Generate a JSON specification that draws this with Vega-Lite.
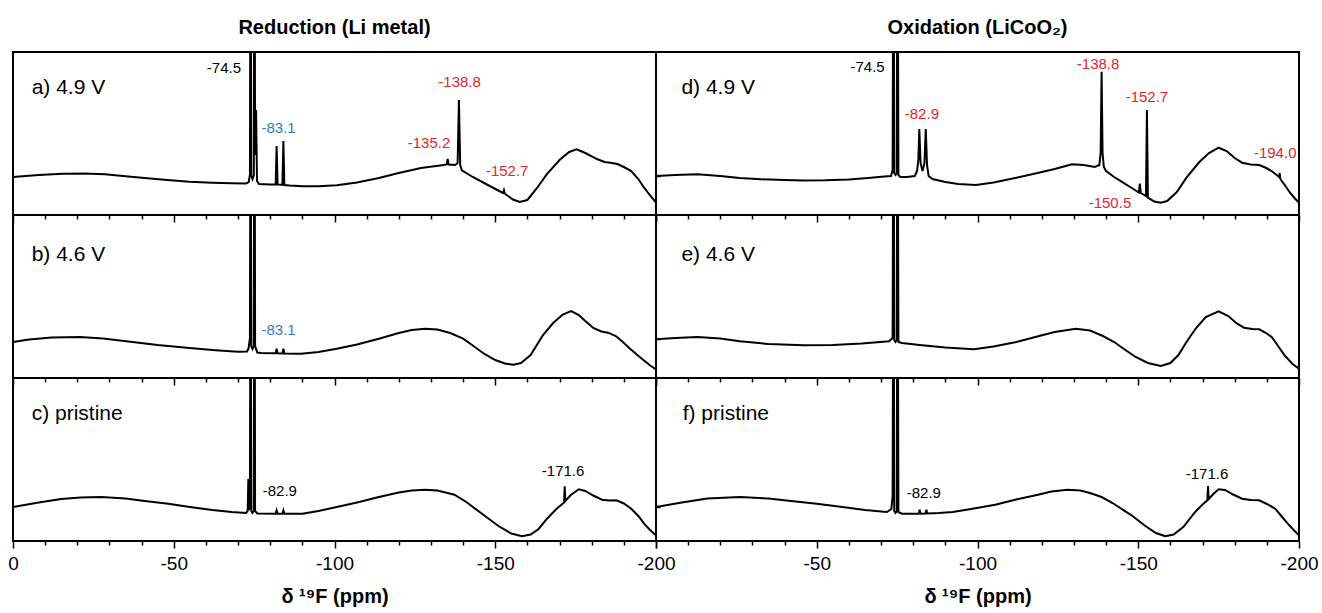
{
  "$schema": "https://vega.github.io/schema/vega-lite/v6.json",
  "padding": {"left": 6, "top": 17, "right": 5, "bottom": 5},
  "background": "white",
  "config": {
    "view": {"stroke": "black", "strokeWidth": 2},
    "axis": {"grid": false, "domain": false, "tickColor": "black", "tickWidth": 1.5, "labelColor": "black", "labelFont": "Liberation Sans", "titleColor": "black", "titleFont": "Liberation Sans", "labelOverlap": false},
    "title": {"font": "Liberation Sans", "fontSize": 20, "fontWeight": "bold", "color": "black", "anchor": "middle", "offset": 14},
    "text": {"font": "Liberation Sans"}
  },
  "datasets": {
    "spectra": [
      {"panel":"a","ppm":0,"h":38},{"panel":"a","ppm":-8,"h":40},{"panel":"a","ppm":-15.6,"h":41.3},{"panel":"a","ppm":-22,"h":41.5},{"panel":"a","ppm":-28.6,"h":40.7},{"panel":"a","ppm":-35,"h":38.8},{"panel":"a","ppm":-41.8,"h":36.7},{"panel":"a","ppm":-48,"h":35},{"panel":"a","ppm":-54.9,"h":33.3},{"panel":"a","ppm":-62,"h":32.3},{"panel":"a","ppm":-68,"h":31.8},{"panel":"a","ppm":-72.5,"h":31.5},{"panel":"a","ppm":-73.3,"h":33},{"panel":"a","ppm":-73.7,"h":40},{"panel":"a","ppm":-73.9,"h":400},{"panel":"a","ppm":-74.1,"h":40},{"panel":"a","ppm":-74.5,"h":36},{"panel":"a","ppm":-74.9,"h":40},{"panel":"a","ppm":-75.1,"h":400},{"panel":"a","ppm":-75.3,"h":60},{"panel":"a","ppm":-75.6,"h":105},{"panel":"a","ppm":-75.9,"h":34},{"panel":"a","ppm":-76.5,"h":31},{"panel":"a","ppm":-80,"h":30.5},{"panel":"a","ppm":-81.7,"h":30.5},{"panel":"a","ppm":-82.0,"h":69},{"panel":"a","ppm":-82.3,"h":30.5},{"panel":"a","ppm":-83.8,"h":30.3},{"panel":"a","ppm":-84.1,"h":74},{"panel":"a","ppm":-84.4,"h":30},{"panel":"a","ppm":-86,"h":29.5},{"panel":"a","ppm":-90.2,"h":28.7},{"panel":"a","ppm":-95,"h":28.8},{"panel":"a","ppm":-100.7,"h":29.7},{"panel":"a","ppm":-107,"h":32.5},{"panel":"a","ppm":-113.8,"h":37},{"panel":"a","ppm":-120,"h":42},{"panel":"a","ppm":-126.9,"h":47},{"panel":"a","ppm":-133.4,"h":49.7},{"panel":"a","ppm":-134.9,"h":50.5},{"panel":"a","ppm":-135.2,"h":56},{"panel":"a","ppm":-135.5,"h":50.5},{"panel":"a","ppm":-137.5,"h":50},{"panel":"a","ppm":-138.3,"h":52},{"panel":"a","ppm":-138.7,"h":115},{"panel":"a","ppm":-139.1,"h":50},{"panel":"a","ppm":-139.6,"h":44.7},{"panel":"a","ppm":-143,"h":38},{"panel":"a","ppm":-148,"h":29.5},{"panel":"a","ppm":-152.4,"h":22},{"panel":"a","ppm":-152.7,"h":25},{"panel":"a","ppm":-153,"h":21.3},{"panel":"a","ppm":-155.5,"h":15.5},{"panel":"a","ppm":-157.6,"h":13},{"panel":"a","ppm":-160,"h":15},{"panel":"a","ppm":-163,"h":27},{"panel":"a","ppm":-166,"h":40.7},{"panel":"a","ppm":-170,"h":55},{"panel":"a","ppm":-173,"h":63},{"panel":"a","ppm":-175.3,"h":65.7},{"panel":"a","ppm":-178,"h":62},{"panel":"a","ppm":-181.8,"h":55.7},{"panel":"a","ppm":-184,"h":53},{"panel":"a","ppm":-185.8,"h":52.3},{"panel":"a","ppm":-188,"h":51},{"panel":"a","ppm":-190,"h":48},{"panel":"a","ppm":-192.3,"h":44},{"panel":"a","ppm":-194.5,"h":36},{"panel":"a","ppm":-196.3,"h":27.3},{"panel":"a","ppm":-198.3,"h":19},{"panel":"a","ppm":-200,"h":12.3},

      {"panel":"b","ppm":0,"h":36},{"panel":"b","ppm":-5,"h":38.5},{"panel":"b","ppm":-12,"h":40.5},{"panel":"b","ppm":-20.8,"h":41},{"panel":"b","ppm":-28,"h":39.5},{"panel":"b","ppm":-35.2,"h":36.7},{"panel":"b","ppm":-45,"h":33},{"panel":"b","ppm":-54.9,"h":30},{"panel":"b","ppm":-63,"h":27.8},{"panel":"b","ppm":-70,"h":26.3},{"panel":"b","ppm":-72.8,"h":26.5},{"panel":"b","ppm":-73.3,"h":30},{"panel":"b","ppm":-73.7,"h":40},{"panel":"b","ppm":-73.9,"h":400},{"panel":"b","ppm":-74.1,"h":32},{"panel":"b","ppm":-74.5,"h":29},{"panel":"b","ppm":-74.9,"h":32},{"panel":"b","ppm":-75.1,"h":400},{"panel":"b","ppm":-75.3,"h":32},{"panel":"b","ppm":-76,"h":25.5},{"panel":"b","ppm":-77.1,"h":25},{"panel":"b","ppm":-81.7,"h":24.8},{"panel":"b","ppm":-82,"h":29.3},{"panel":"b","ppm":-82.3,"h":24.7},{"panel":"b","ppm":-83.8,"h":24.6},{"panel":"b","ppm":-84.1,"h":29.3},{"panel":"b","ppm":-84.4,"h":24.5},{"panel":"b","ppm":-89.6,"h":24.3},{"panel":"b","ppm":-95,"h":26},{"panel":"b","ppm":-100.7,"h":29.3},{"panel":"b","ppm":-107,"h":33.5},{"panel":"b","ppm":-113.8,"h":39.3},{"panel":"b","ppm":-120,"h":45},{"panel":"b","ppm":-124,"h":48},{"panel":"b","ppm":-128.2,"h":49.3},{"panel":"b","ppm":-132,"h":48.5},{"panel":"b","ppm":-136,"h":45},{"panel":"b","ppm":-140,"h":39.3},{"panel":"b","ppm":-143,"h":32.5},{"panel":"b","ppm":-146.5,"h":24.3},{"panel":"b","ppm":-150,"h":18},{"panel":"b","ppm":-153,"h":14.5},{"panel":"b","ppm":-155.7,"h":13.3},{"panel":"b","ppm":-158,"h":15},{"panel":"b","ppm":-161,"h":23},{"panel":"b","ppm":-164.8,"h":42.7},{"panel":"b","ppm":-168,"h":55},{"panel":"b","ppm":-171,"h":63.5},{"panel":"b","ppm":-173.6,"h":67},{"panel":"b","ppm":-176,"h":63},{"panel":"b","ppm":-178,"h":57},{"panel":"b","ppm":-180.5,"h":50},{"panel":"b","ppm":-183,"h":46.5},{"panel":"b","ppm":-185.1,"h":45.3},{"panel":"b","ppm":-187.5,"h":42},{"panel":"b","ppm":-189.7,"h":36},{"panel":"b","ppm":-192,"h":29},{"panel":"b","ppm":-195.6,"h":19.3},{"panel":"b","ppm":-198,"h":13},{"panel":"b","ppm":-200,"h":8.5},

      {"panel":"c","ppm":0,"h":34},{"panel":"c","ppm":-8,"h":38.5},{"panel":"c","ppm":-15,"h":42},{"panel":"c","ppm":-21,"h":43.5},{"panel":"c","ppm":-27.4,"h":44},{"panel":"c","ppm":-35,"h":42.5},{"panel":"c","ppm":-41,"h":40},{"panel":"c","ppm":-48.3,"h":37.3},{"panel":"c","ppm":-55,"h":34},{"panel":"c","ppm":-62,"h":31},{"panel":"c","ppm":-68,"h":29},{"panel":"c","ppm":-72.5,"h":28},{"panel":"c","ppm":-73.0,"h":30},{"panel":"c","ppm":-73.2,"h":62},{"panel":"c","ppm":-73.4,"h":31},{"panel":"c","ppm":-73.7,"h":38},{"panel":"c","ppm":-73.9,"h":400},{"panel":"c","ppm":-74.1,"h":30},{"panel":"c","ppm":-74.5,"h":28},{"panel":"c","ppm":-74.9,"h":30},{"panel":"c","ppm":-75.1,"h":400},{"panel":"c","ppm":-75.3,"h":30},{"panel":"c","ppm":-76,"h":27.5},{"panel":"c","ppm":-81.7,"h":27.3},{"panel":"c","ppm":-82,"h":30.7},{"panel":"c","ppm":-82.3,"h":27.3},{"panel":"c","ppm":-83.8,"h":27.3},{"panel":"c","ppm":-84.1,"h":30.7},{"panel":"c","ppm":-84.4,"h":27.3},{"panel":"c","ppm":-90,"h":27.3},{"panel":"c","ppm":-95,"h":30},{"panel":"c","ppm":-100.7,"h":34},{"panel":"c","ppm":-107,"h":38.5},{"panel":"c","ppm":-113.8,"h":44},{"panel":"c","ppm":-120,"h":48.5},{"panel":"c","ppm":-124,"h":50.5},{"panel":"c","ppm":-128.2,"h":51.3},{"panel":"c","ppm":-132,"h":50.5},{"panel":"c","ppm":-137.3,"h":46.3},{"panel":"c","ppm":-141,"h":39},{"panel":"c","ppm":-146.5,"h":25.7},{"panel":"c","ppm":-151,"h":15},{"panel":"c","ppm":-155,"h":7.5},{"panel":"c","ppm":-158.3,"h":4.7},{"panel":"c","ppm":-161,"h":6.5},{"panel":"c","ppm":-163.5,"h":12},{"panel":"c","ppm":-166.1,"h":22.3},{"panel":"c","ppm":-169,"h":32},{"panel":"c","ppm":-171.4,"h":38.5},{"panel":"c","ppm":-171.6,"h":54.7},{"panel":"c","ppm":-171.8,"h":40},{"panel":"c","ppm":-173.5,"h":46},{"panel":"c","ppm":-176,"h":51.7},{"panel":"c","ppm":-178,"h":50},{"panel":"c","ppm":-180.5,"h":45.5},{"panel":"c","ppm":-183.2,"h":41.3},{"panel":"c","ppm":-185.5,"h":40.5},{"panel":"c","ppm":-187.7,"h":40.7},{"panel":"c","ppm":-190,"h":37.5},{"panel":"c","ppm":-192.3,"h":32.3},{"panel":"c","ppm":-194.5,"h":25},{"panel":"c","ppm":-196.3,"h":17.3},{"panel":"c","ppm":-198.3,"h":10.5},{"panel":"c","ppm":-200,"h":5.7},

      {"panel":"d","ppm":0,"h":39},{"panel":"d","ppm":-6,"h":40},{"panel":"d","ppm":-12.9,"h":40.7},{"panel":"d","ppm":-20,"h":39},{"panel":"d","ppm":-26,"h":37},{"panel":"d","ppm":-32.7,"h":35.7},{"panel":"d","ppm":-40,"h":35},{"panel":"d","ppm":-46,"h":34.6},{"panel":"d","ppm":-52.6,"h":34.7},{"panel":"d","ppm":-60,"h":35.5},{"panel":"d","ppm":-66,"h":37},{"panel":"d","ppm":-71,"h":38.5},{"panel":"d","ppm":-73.1,"h":39},{"panel":"d","ppm":-73.6,"h":45},{"panel":"d","ppm":-73.9,"h":400},{"panel":"d","ppm":-74.1,"h":42},{"panel":"d","ppm":-74.5,"h":40},{"panel":"d","ppm":-74.9,"h":42},{"panel":"d","ppm":-75.1,"h":400},{"panel":"d","ppm":-75.4,"h":40},{"panel":"d","ppm":-76,"h":38},{"panel":"d","ppm":-78,"h":38},{"panel":"d","ppm":-80.5,"h":39},{"panel":"d","ppm":-81.2,"h":44},{"panel":"d","ppm":-81.6,"h":55},{"panel":"d","ppm":-81.9,"h":86},{"panel":"d","ppm":-82.3,"h":52},{"panel":"d","ppm":-82.9,"h":44},{"panel":"d","ppm":-83.5,"h":52},{"panel":"d","ppm":-83.9,"h":86},{"panel":"d","ppm":-84.3,"h":50},{"panel":"d","ppm":-84.8,"h":39},{"panel":"d","ppm":-86,"h":36},{"panel":"d","ppm":-90,"h":33},{"panel":"d","ppm":-94,"h":31},{"panel":"d","ppm":-99.5,"h":30},{"panel":"d","ppm":-105,"h":32.5},{"panel":"d","ppm":-112.1,"h":37.3},{"panel":"d","ppm":-118,"h":41.5},{"panel":"d","ppm":-124,"h":46},{"panel":"d","ppm":-129.4,"h":50.7},{"panel":"d","ppm":-133,"h":50},{"panel":"d","ppm":-136.5,"h":48},{"panel":"d","ppm":-137.9,"h":50},{"panel":"d","ppm":-138.3,"h":62},{"panel":"d","ppm":-138.6,"h":143.3},{"panel":"d","ppm":-138.9,"h":62},{"panel":"d","ppm":-139.3,"h":48},{"panel":"d","ppm":-140,"h":44},{"panel":"d","ppm":-142.5,"h":38},{"panel":"d","ppm":-145.3,"h":32.3},{"panel":"d","ppm":-148,"h":27},{"panel":"d","ppm":-150.2,"h":22.5},{"panel":"d","ppm":-150.5,"h":31.3},{"panel":"d","ppm":-150.8,"h":22},{"panel":"d","ppm":-152.4,"h":19},{"panel":"d","ppm":-152.7,"h":105},{"panel":"d","ppm":-153,"h":17.3},{"panel":"d","ppm":-155,"h":13.5},{"panel":"d","ppm":-157,"h":12.3},{"panel":"d","ppm":-159,"h":14},{"panel":"d","ppm":-162,"h":23},{"panel":"d","ppm":-165,"h":37.3},{"panel":"d","ppm":-169,"h":53},{"panel":"d","ppm":-172,"h":62},{"panel":"d","ppm":-175,"h":67.3},{"panel":"d","ppm":-177.5,"h":64},{"panel":"d","ppm":-180,"h":57},{"panel":"d","ppm":-182.3,"h":52.3},{"panel":"d","ppm":-185,"h":50.5},{"panel":"d","ppm":-187.6,"h":50},{"panel":"d","ppm":-189.5,"h":47.5},{"panel":"d","ppm":-191.5,"h":44},{"panel":"d","ppm":-193.8,"h":38},{"panel":"d","ppm":-194.0,"h":42},{"panel":"d","ppm":-194.2,"h":36},{"panel":"d","ppm":-196,"h":28},{"panel":"d","ppm":-197.2,"h":22.3},{"panel":"d","ppm":-198.6,"h":17},{"panel":"d","ppm":-200,"h":12.3},

      {"panel":"e","ppm":0,"h":38.7},{"panel":"e","ppm":-6,"h":40},{"panel":"e","ppm":-12.9,"h":41},{"panel":"e","ppm":-20,"h":39.5},{"panel":"e","ppm":-26.1,"h":36.7},{"panel":"e","ppm":-35,"h":34},{"panel":"e","ppm":-46,"h":32.7},{"panel":"e","ppm":-55,"h":33},{"panel":"e","ppm":-64,"h":34.5},{"panel":"e","ppm":-72.5,"h":36.7},{"panel":"e","ppm":-73.6,"h":40},{"panel":"e","ppm":-73.9,"h":400},{"panel":"e","ppm":-74.1,"h":38},{"panel":"e","ppm":-74.5,"h":36},{"panel":"e","ppm":-74.9,"h":38},{"panel":"e","ppm":-75.1,"h":400},{"panel":"e","ppm":-75.4,"h":36},{"panel":"e","ppm":-76.5,"h":35},{"panel":"e","ppm":-82,"h":33},{"panel":"e","ppm":-90,"h":30.5},{"panel":"e","ppm":-98.9,"h":28.7},{"panel":"e","ppm":-105,"h":31.5},{"panel":"e","ppm":-112.1,"h":36},{"panel":"e","ppm":-118,"h":41},{"panel":"e","ppm":-124,"h":46},{"panel":"e","ppm":-130.6,"h":49.3},{"panel":"e","ppm":-135,"h":47.5},{"panel":"e","ppm":-139,"h":42},{"panel":"e","ppm":-142.5,"h":36},{"panel":"e","ppm":-146,"h":28},{"panel":"e","ppm":-149.2,"h":21},{"panel":"e","ppm":-153,"h":15},{"panel":"e","ppm":-157,"h":12},{"panel":"e","ppm":-160,"h":15},{"panel":"e","ppm":-162.5,"h":23},{"panel":"e","ppm":-165,"h":36},{"panel":"e","ppm":-168,"h":50},{"panel":"e","ppm":-171,"h":61},{"panel":"e","ppm":-175,"h":66.7},{"panel":"e","ppm":-178,"h":62},{"panel":"e","ppm":-180.5,"h":55},{"panel":"e","ppm":-182.9,"h":50.3},{"panel":"e","ppm":-185.5,"h":49},{"panel":"e","ppm":-187.6,"h":48.7},{"panel":"e","ppm":-189.5,"h":45.5},{"panel":"e","ppm":-191.5,"h":41},{"panel":"e","ppm":-193.5,"h":32},{"panel":"e","ppm":-195.5,"h":22.7},{"panel":"e","ppm":-198,"h":14},{"panel":"e","ppm":-200,"h":9.3},

      {"panel":"f","ppm":0,"h":34},{"panel":"f","ppm":-8,"h":38.5},{"panel":"f","ppm":-16,"h":42.5},{"panel":"f","ppm":-26.1,"h":44},{"panel":"f","ppm":-35,"h":42.5},{"panel":"f","ppm":-42,"h":40},{"panel":"f","ppm":-50,"h":37.3},{"panel":"f","ppm":-58,"h":34},{"panel":"f","ppm":-65,"h":31},{"panel":"f","ppm":-71.8,"h":29},{"panel":"f","ppm":-73.2,"h":32},{"panel":"f","ppm":-73.6,"h":45},{"panel":"f","ppm":-73.9,"h":400},{"panel":"f","ppm":-74.1,"h":30},{"panel":"f","ppm":-74.5,"h":28},{"panel":"f","ppm":-74.9,"h":30},{"panel":"f","ppm":-75.1,"h":400},{"panel":"f","ppm":-75.4,"h":29},{"panel":"f","ppm":-76.5,"h":27.3},{"panel":"f","ppm":-81.7,"h":27.3},{"panel":"f","ppm":-82,"h":31.3},{"panel":"f","ppm":-82.3,"h":27.3},{"panel":"f","ppm":-83.8,"h":27.5},{"panel":"f","ppm":-84.1,"h":31.3},{"panel":"f","ppm":-84.4,"h":27.6},{"panel":"f","ppm":-88,"h":28},{"panel":"f","ppm":-92.3,"h":29},{"panel":"f","ppm":-98,"h":32},{"panel":"f","ppm":-105.5,"h":36.3},{"panel":"f","ppm":-112,"h":41.5},{"panel":"f","ppm":-118.8,"h":46.3},{"panel":"f","ppm":-123,"h":49.5},{"panel":"f","ppm":-128,"h":51.3},{"panel":"f","ppm":-132,"h":50.5},{"panel":"f","ppm":-135,"h":48},{"panel":"f","ppm":-138.6,"h":44},{"panel":"f","ppm":-142,"h":38},{"panel":"f","ppm":-147.9,"h":25.7},{"panel":"f","ppm":-152,"h":15.5},{"panel":"f","ppm":-155.5,"h":8},{"panel":"f","ppm":-158.4,"h":4.7},{"panel":"f","ppm":-161,"h":6.5},{"panel":"f","ppm":-164,"h":14},{"panel":"f","ppm":-167.7,"h":29},{"panel":"f","ppm":-170,"h":36.5},{"panel":"f","ppm":-171.5,"h":40.7},{"panel":"f","ppm":-171.7,"h":55},{"panel":"f","ppm":-171.9,"h":42},{"panel":"f","ppm":-173.5,"h":47.5},{"panel":"f","ppm":-175,"h":51.7},{"panel":"f","ppm":-177,"h":51},{"panel":"f","ppm":-179.5,"h":46.5},{"panel":"f","ppm":-182.3,"h":42.3},{"panel":"f","ppm":-185,"h":41},{"panel":"f","ppm":-187.6,"h":40.7},{"panel":"f","ppm":-190,"h":37},{"panel":"f","ppm":-192.6,"h":32.3},{"panel":"f","ppm":-194.5,"h":25},{"panel":"f","ppm":-196.5,"h":17.3},{"panel":"f","ppm":-198.5,"h":10.5},{"panel":"f","ppm":-200,"h":5.7}
    ],
    "peaks": [
      {"panel":"a","ppm":-65.6,"h":147,"text":"-74.5","cls":"plain"},
      {"panel":"a","ppm":-82.6,"h":87,"text":"-83.1","cls":"blue"},
      {"panel":"a","ppm":-129.4,"h":72,"text":"-135.2","cls":"red"},
      {"panel":"a","ppm":-138.9,"h":133,"text":"-138.8","cls":"red"},
      {"panel":"a","ppm":-153.7,"h":44,"text":"-152.7","cls":"red"},
      {"panel":"b","ppm":-82.6,"h":48,"text":"-83.1","cls":"blue"},
      {"panel":"c","ppm":-83,"h":50,"text":"-82.9","cls":"plain"},
      {"panel":"c","ppm":-171.1,"h":70,"text":"-171.6","cls":"plain"},
      {"panel":"d","ppm":-65.8,"h":148,"text":"-74.5","cls":"plain"},
      {"panel":"d","ppm":-82.7,"h":101,"text":"-82.9","cls":"red"},
      {"panel":"d","ppm":-137.5,"h":150.7,"text":"-138.8","cls":"red"},
      {"panel":"d","ppm":-152.7,"h":118,"text":"-152.7","cls":"red"},
      {"panel":"d","ppm":-141.2,"h":12,"text":"-150.5","cls":"red"},
      {"panel":"d","ppm":-192.6,"h":61.7,"text":"-194.0","cls":"red"},
      {"panel":"f","ppm":-83.3,"h":48.3,"text":"-82.9","cls":"plain"},
      {"panel":"f","ppm":-171.4,"h":67.3,"text":"-171.6","cls":"plain"}
    ],
    "names": [
      {"panel":"a","ppm":-5.8,"h":127,"text":"a) 4.9 V"},
      {"panel":"b","ppm":-5.8,"h":123,"text":"b) 4.6 V"},
      {"panel":"c","ppm":-5.8,"h":127,"text":"c) pristine"},
      {"panel":"d","ppm":-7.9,"h":127,"text":"d) 4.9 V"},
      {"panel":"e","ppm":-7.9,"h":123,"text":"e) 4.6 V"},
      {"panel":"f","ppm":-8.3,"h":127,"text":"f) pristine"}
    ]
  },
  "columns": 2,
  "spacing": 0,
  "bounds": "flush",
  "concat": [
    {"width": 643, "height": 163, "title": "Reduction (Li metal)", "resolve": {"axis": {"x": "independent"}}, "layer": [
      {"data": {"name": "spectra"}, "transform": [{"filter": "datum.panel === 'a'"}], "mark": {"type": "line", "color": "black", "strokeWidth": 2, "clip": true},
       "encoding": {"x": {"field": "ppm", "type": "quantitative", "scale": {"domain": [0, -200], "nice": false, "zero": false},
          "axis": {"orient": "bottom", "values": [-10,-20,-30,-40,-60,-70,-80,-90,-110,-120,-130,-140,-160,-170,-180,-190], "labels": false, "title": null, "tickSize": 4}},
         "y": {"field": "h", "type": "quantitative", "scale": {"domain": [0, 163], "nice": false, "zero": false}, "axis": {"orient": "right", "values": [39], "labels": false, "title": null, "tickSize": 4}}}},
      {"data": {"name": "peaks"}, "transform": [{"filter": "datum.panel === 'a'"}], "mark": {"type": "text", "fontSize": 15, "align": "center", "baseline": "middle"},
       "encoding": {"x": {"field": "ppm", "type": "quantitative", "axis": null}, "y": {"field": "h", "type": "quantitative"}, "text": {"field": "text"},
         "color": {"field": "cls", "type": "nominal", "scale": {"domain": ["plain", "blue", "red"], "range": ["#000000", "#3b78c3", "#e3252a"]}, "legend": null}}},
      {"data": {"name": "names"}, "transform": [{"filter": "datum.panel === 'a'"}], "mark": {"type": "text", "fontSize": 21, "align": "left", "baseline": "middle", "color": "black"},
       "encoding": {"x": {"field": "ppm", "type": "quantitative", "axis": {"orient": "bottom", "values": [0,-50,-100,-150,-200], "labels": false, "title": null, "tickSize": 7}}, "y": {"field": "h", "type": "quantitative"}, "text": {"field": "text"}}}
    ]},
    {"width": 643, "height": 163, "title": "Oxidation (LiCoO₂)", "resolve": {"axis": {"x": "independent"}}, "layer": [
      {"data": {"name": "spectra"}, "transform": [{"filter": "datum.panel === 'd'"}], "mark": {"type": "line", "color": "black", "strokeWidth": 2, "clip": true},
       "encoding": {"x": {"field": "ppm", "type": "quantitative", "scale": {"domain": [0, -200], "nice": false, "zero": false},
          "axis": {"orient": "bottom", "values": [-10,-20,-30,-40,-60,-70,-80,-90,-110,-120,-130,-140,-160,-170,-180,-190], "labels": false, "title": null, "tickSize": 4}},
         "y": {"field": "h", "type": "quantitative", "scale": {"domain": [0, 163], "nice": false, "zero": false}, "axis": null}}},
      {"data": {"name": "peaks"}, "transform": [{"filter": "datum.panel === 'd'"}], "mark": {"type": "text", "fontSize": 15, "align": "center", "baseline": "middle"},
       "encoding": {"x": {"field": "ppm", "type": "quantitative", "axis": null}, "y": {"field": "h", "type": "quantitative"}, "text": {"field": "text"},
         "color": {"field": "cls", "type": "nominal", "scale": {"domain": ["plain", "blue", "red"], "range": ["#000000", "#3b78c3", "#e3252a"]}, "legend": null}}},
      {"data": {"name": "names"}, "transform": [{"filter": "datum.panel === 'd'"}], "mark": {"type": "text", "fontSize": 21, "align": "left", "baseline": "middle", "color": "black"},
       "encoding": {"x": {"field": "ppm", "type": "quantitative", "axis": {"orient": "bottom", "values": [0,-50,-100,-150,-200], "labels": false, "title": null, "tickSize": 7}}, "y": {"field": "h", "type": "quantitative"}, "text": {"field": "text"}}}
    ]},
    {"width": 643, "height": 163, "resolve": {"axis": {"x": "independent"}}, "layer": [
      {"data": {"name": "spectra"}, "transform": [{"filter": "datum.panel === 'b'"}], "mark": {"type": "line", "color": "black", "strokeWidth": 2, "clip": true},
       "encoding": {"x": {"field": "ppm", "type": "quantitative", "scale": {"domain": [0, -200], "nice": false, "zero": false},
          "axis": {"orient": "bottom", "values": [-10,-20,-30,-40,-60,-70,-80,-90,-110,-120,-130,-140,-160,-170,-180,-190], "labels": false, "title": null, "tickSize": 4}},
         "y": {"field": "h", "type": "quantitative", "scale": {"domain": [0, 163], "nice": false, "zero": false}, "axis": {"orient": "right", "values": [39], "labels": false, "title": null, "tickSize": 4}}}},
      {"data": {"name": "peaks"}, "transform": [{"filter": "datum.panel === 'b'"}], "mark": {"type": "text", "fontSize": 15, "align": "center", "baseline": "middle"},
       "encoding": {"x": {"field": "ppm", "type": "quantitative", "axis": null}, "y": {"field": "h", "type": "quantitative"}, "text": {"field": "text"},
         "color": {"field": "cls", "type": "nominal", "scale": {"domain": ["plain", "blue", "red"], "range": ["#000000", "#3b78c3", "#e3252a"]}, "legend": null}}},
      {"data": {"name": "names"}, "transform": [{"filter": "datum.panel === 'b'"}], "mark": {"type": "text", "fontSize": 21, "align": "left", "baseline": "middle", "color": "black"},
       "encoding": {"x": {"field": "ppm", "type": "quantitative", "axis": {"orient": "bottom", "values": [0,-50,-100,-150,-200], "labels": false, "title": null, "tickSize": 7}}, "y": {"field": "h", "type": "quantitative"}, "text": {"field": "text"}}}
    ]},
    {"width": 643, "height": 163, "resolve": {"axis": {"x": "independent"}}, "layer": [
      {"data": {"name": "spectra"}, "transform": [{"filter": "datum.panel === 'e'"}], "mark": {"type": "line", "color": "black", "strokeWidth": 2, "clip": true},
       "encoding": {"x": {"field": "ppm", "type": "quantitative", "scale": {"domain": [0, -200], "nice": false, "zero": false},
          "axis": {"orient": "bottom", "values": [-10,-20,-30,-40,-60,-70,-80,-90,-110,-120,-130,-140,-160,-170,-180,-190], "labels": false, "title": null, "tickSize": 4}},
         "y": {"field": "h", "type": "quantitative", "scale": {"domain": [0, 163], "nice": false, "zero": false}, "axis": null}}},
      {"data": {"name": "names"}, "transform": [{"filter": "datum.panel === 'e'"}], "mark": {"type": "text", "fontSize": 21, "align": "left", "baseline": "middle", "color": "black"},
       "encoding": {"x": {"field": "ppm", "type": "quantitative", "axis": {"orient": "bottom", "values": [0,-50,-100,-150,-200], "labels": false, "title": null, "tickSize": 7}}, "y": {"field": "h", "type": "quantitative"}, "text": {"field": "text"}}}
    ]},
    {"width": 643, "height": 163, "resolve": {"axis": {"x": "independent"}}, "layer": [
      {"data": {"name": "spectra"}, "transform": [{"filter": "datum.panel === 'c'"}], "mark": {"type": "line", "color": "black", "strokeWidth": 2, "clip": true},
       "encoding": {"x": {"field": "ppm", "type": "quantitative", "scale": {"domain": [0, -200], "nice": false, "zero": false},
          "axis": {"orient": "bottom", "values": [-10,-20,-30,-40,-60,-70,-80,-90,-110,-120,-130,-140,-160,-170,-180,-190], "labels": false, "title": null, "tickSize": 4}},
         "y": {"field": "h", "type": "quantitative", "scale": {"domain": [0, 163], "nice": false, "zero": false}, "axis": {"orient": "right", "values": [34], "labels": false, "title": null, "tickSize": 4}}}},
      {"data": {"name": "peaks"}, "transform": [{"filter": "datum.panel === 'c'"}], "mark": {"type": "text", "fontSize": 15, "align": "center", "baseline": "middle"},
       "encoding": {"x": {"field": "ppm", "type": "quantitative", "axis": null}, "y": {"field": "h", "type": "quantitative"}, "text": {"field": "text"},
         "color": {"field": "cls", "type": "nominal", "scale": {"domain": ["plain", "blue", "red"], "range": ["#000000", "#3b78c3", "#e3252a"]}, "legend": null}}},
      {"data": {"name": "names"}, "transform": [{"filter": "datum.panel === 'c'"}], "mark": {"type": "text", "fontSize": 21, "align": "left", "baseline": "middle", "color": "black"},
       "encoding": {"x": {"field": "ppm", "type": "quantitative", "axis": {"orient": "bottom", "values": [0,-50,-100,-150,-200], "labels": true, "labelExpr": "toString(datum.value)", "labelFontSize": 19, "labelPadding": 6, "labelFlush": false, "labelOverlap": false,
            "title": "δ ¹⁹F (ppm)", "titleFontSize": 20, "titleFontWeight": "bold", "titlePadding": 13, "tickSize": 7}}, "y": {"field": "h", "type": "quantitative"}, "text": {"field": "text"}}}
    ]},
    {"width": 643, "height": 163, "resolve": {"axis": {"x": "independent"}}, "layer": [
      {"data": {"name": "spectra"}, "transform": [{"filter": "datum.panel === 'f'"}], "mark": {"type": "line", "color": "black", "strokeWidth": 2, "clip": true},
       "encoding": {"x": {"field": "ppm", "type": "quantitative", "scale": {"domain": [0, -200], "nice": false, "zero": false},
          "axis": {"orient": "bottom", "values": [-10,-20,-30,-40,-60,-70,-80,-90,-110,-120,-130,-140,-160,-170,-180,-190], "labels": false, "title": null, "tickSize": 4}},
         "y": {"field": "h", "type": "quantitative", "scale": {"domain": [0, 163], "nice": false, "zero": false}, "axis": null}}},
      {"data": {"name": "peaks"}, "transform": [{"filter": "datum.panel === 'f'"}], "mark": {"type": "text", "fontSize": 15, "align": "center", "baseline": "middle"},
       "encoding": {"x": {"field": "ppm", "type": "quantitative", "axis": null}, "y": {"field": "h", "type": "quantitative"}, "text": {"field": "text"},
         "color": {"field": "cls", "type": "nominal", "scale": {"domain": ["plain", "blue", "red"], "range": ["#000000", "#3b78c3", "#e3252a"]}, "legend": null}}},
      {"data": {"name": "names"}, "transform": [{"filter": "datum.panel === 'f'"}], "mark": {"type": "text", "fontSize": 21, "align": "left", "baseline": "middle", "color": "black"},
       "encoding": {"x": {"field": "ppm", "type": "quantitative", "axis": {"orient": "bottom", "values": [0,-50,-100,-150,-200], "labels": true, "labelExpr": "datum.value === 0 ? '' : toString(datum.value)", "labelFontSize": 19, "labelPadding": 6, "labelFlush": false, "labelOverlap": false,
            "title": "δ ¹⁹F (ppm)", "titleFontSize": 20, "titleFontWeight": "bold", "titlePadding": 13, "tickSize": 7}}, "y": {"field": "h", "type": "quantitative"}, "text": {"field": "text"}}}
    ]}
  ]
}
